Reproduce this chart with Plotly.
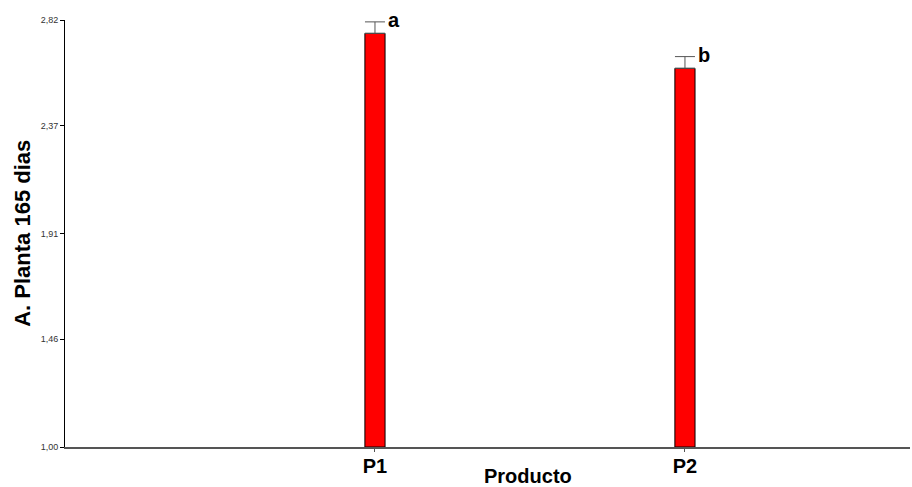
import plotly.graph_objects as go

categories = ["P1", "P2"]
means = [2.763, 2.614]
errors = [0.049, 0.050]
letters = ["a", "b"]
y_ticks = [1.00, 1.46, 1.91, 2.37, 2.82]
y_tick_labels = ["1,00", "1,46", "1,91", "2,37", "2,82"]

fig = go.Figure()
fig.add_trace(go.Bar(
    x=categories, y=[m - 1.0 for m in means], base=1.0,
    width=0.065,
    marker=dict(color="#ff0000", line=dict(color="#000000", width=1)),
    error_y=dict(type="data", array=errors, symmetric=False, arrayminus=[0, 0],
                 color="#555555", thickness=1, width=10),
    hoverinfo="skip",
))

for c, m, e, t in zip(categories, means, errors, letters):
    fig.add_annotation(x=c, y=m + e, text="<b>%s</b>" % t, showarrow=False,
                       xanchor="left", yanchor="middle", xshift=11, yshift=2,
                       font=dict(family="Liberation Sans, Arial", size=20, color="#000000"))

fig.add_annotation(x=0.5475, xref="paper", y=-0.069, yref="paper",
                   text="<b>Producto</b>", showarrow=False, yanchor="middle",
                   font=dict(family="Liberation Sans, Arial", size=20, color="#000000"))

fig.add_annotation(x=-0.0505, xref="paper", y=0.5, yref="paper",
                   text="<b>A. Planta 165 dias</b>", showarrow=False, textangle=-90,
                   xanchor="center", yanchor="middle",
                   font=dict(family="Liberation Sans, Arial", size=22, color="#000000"))

fig.update_layout(
    width=912, height=487,
    margin=dict(l=65, r=2, t=20, b=40),
    paper_bgcolor="white", plot_bgcolor="white",
    showlegend=False,
    xaxis=dict(range=[-1.0, 1.726], showgrid=False, zeroline=False,
               showline=True, linecolor="#555555", linewidth=2,
               ticks="outside", ticklen=3, tickcolor="#555555",
               ticklabelstandoff=-3,
               tickfont=dict(family="Liberation Sans, Arial", size=20, color="#000000"),
               tickprefix="<b>", ticksuffix="</b>"),
    yaxis=dict(range=[1.0, 2.82], showgrid=False, zeroline=False,
               showline=True, linecolor="#000000", linewidth=1,
               ticks="outside", ticklen=4, tickcolor="#000000",
               tickvals=y_ticks, ticktext=y_tick_labels,
               tickfont=dict(family="Liberation Sans, Arial", size=9, color="#333333")),
)

fig.write_html("out.html", config={"displayModeBar": False},
               post_script="document.body.style.margin='0';")
